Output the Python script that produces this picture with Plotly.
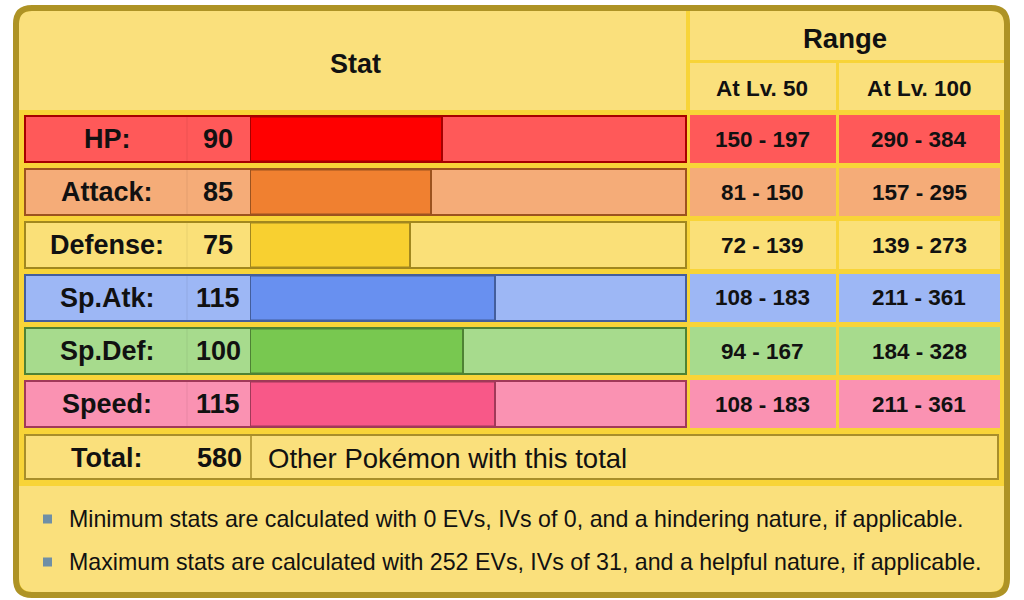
import plotly.graph_objects as go

# ---------------- data ----------------
stats = ["HP", "Attack", "Defense", "Sp.Atk", "Sp.Def", "Speed"]
base_values = [90, 85, 75, 115, 100, 115]
range_lv50 = ["150 - 197", "81 - 150", "72 - 139", "108 - 183", "94 - 167", "108 - 183"]
range_lv100 = ["290 - 384", "157 - 295", "139 - 273", "211 - 361", "184 - 328", "211 - 361"]
header_stat = "Stat"
header_range = "Range"
level_labels = ["At Lv. 50", "At Lv. 100"]
total_label = "Total:"
total_text = "Other Pokémon with this total"
notes = [
    "Minimum stats are calculated with 0 EVs, IVs of 0, and a hindering nature, if applicable.",
    "Maximum stats are calculated with 252 EVs, IVs of 31, and a helpful nature, if applicable.",
]

# ---------------- styles ----------------
light_colors = ["#FF5959", "#F5AC78", "#FAE078", "#9DB7F5", "#A7DB8D", "#FA92B2"]
bar_colors = ["#FF0000", "#F08030", "#F8D030", "#6890F0", "#78C850", "#F85888"]
border_colors = ["#A60000", "#9C531F", "#A1871F", "#445E9C", "#4E8234", "#A13959"]
BG = "#F8D438"
CELL = "#FAE07C"
OUTER = "#AE9325"
FONT = "Liberation Sans, Arial, Helvetica, sans-serif"
TXT = "#111111"

W, H = 1024, 600


def X(p):
    return p / W


def Y(p):
    return 1 - p / H


shapes = []
annotations = []


def rect(x0, y0, x1, y1, fill, line=None, lw=0):
    shapes.append(dict(type="rect", xref="paper", yref="paper",
                       x0=X(x0), x1=X(x1), y0=Y(y1), y1=Y(y0),
                       fillcolor=fill,
                       line=dict(color=line if line else fill, width=lw),
                       layer="below"))


def rpath(x0, y0, x1, y1, radii, fill, line=None, lw=0):
    tl, tr, br, bl = radii

    def p(x, y):
        return f"{X(x):.6f},{Y(y):.6f}"
    d = (f"M{p(x0 + tl, y0)} L{p(x1 - tr, y0)} Q{p(x1, y0)} {p(x1, y0 + tr)} "
         f"L{p(x1, y1 - br)} Q{p(x1, y1)} {p(x1 - br, y1)} "
         f"L{p(x0 + bl, y1)} Q{p(x0, y1)} {p(x0, y1 - bl)} "
         f"L{p(x0, y0 + tl)} Q{p(x0, y0)} {p(x0 + tl, y0)} Z")
    shapes.append(dict(type="path", xref="paper", yref="paper", path=d,
                       fillcolor=fill if fill else "rgba(0,0,0,0)",
                       line=dict(color=line if line else "rgba(0,0,0,0)", width=lw),
                       layer="below"))


def text(x, y, s, size, bold=True, anchor="center", color=TXT):
    annotations.append(dict(xref="paper", yref="paper", x=X(x), y=Y(y), text=s,
                            showarrow=False, xanchor=anchor, yanchor="middle",
                            font=dict(family=FONT, size=size, color=color,
                                      weight=700 if bold else 400)))


# outer background
rpath(16, 8, 1007, 595, (16, 16, 16, 16), BG)

# header cells
rpath(19, 11, 686, 110, (12, 0, 0, 0), CELL)
rpath(690, 11, 1004, 60, (0, 12, 0, 0), CELL)
rect(690, 63, 836, 110, CELL)
rect(839, 63, 1004, 110, CELL)
text(355, 64, header_stat, 27)
text(845, 39, header_range, 27.5)
text(762, 88, level_labels[0], 22.5)
text(919, 88, level_labels[1], 22.5)

# stat rows
ROW0, STEP, RH = 116, 53, 46
for i, name in enumerate(stats):
    top = ROW0 + STEP * i
    bot = top + RH
    mid = (top + bot) / 2
    rect(25, top, 686, bot, light_colors[i], border_colors[i], 2)
    shapes.append(dict(type="line", xref="paper", yref="paper",
                       x0=X(187), x1=X(187), y0=Y(top + 1), y1=Y(bot - 1),
                       line=dict(color="rgba(0,0,0,0.07)", width=1), layer="below"))
    rect(690, top - 1, 836, bot + 1, light_colors[i])
    rect(839, top - 1, 1000, bot + 1, light_colors[i])
    text(107, mid, name + ":", 27)
    text(218, mid, str(base_values[i]), 27)
    text(762, mid, range_lv50[i], 22.5)
    text(919, mid, range_lv100[i], 22.5)

# total row
rect(25, 435, 998, 479, CELL, "#A88E2A", 2)
shapes.append(dict(type="line", xref="paper", yref="paper",
                   x0=X(251), x1=X(251), y0=Y(436), y1=Y(478),
                   line=dict(color="#A88E2A", width=1.5), layer="below"))
text(106, 458, total_label, 27)
text(219, 458, str(sum(base_values)), 27)
text(266, 458, total_text, 27.5, bold=False, anchor="left")

# notes area
rpath(19, 486, 1004, 592, (0, 0, 14, 14), CELL)
for k, note in enumerate(notes):
    cy = 519 + 43 * k
    rect(43, cy - 4.5, 52, cy + 4.5, "#6F8FA6")
    text(67, cy, note, 23.2, bold=False, anchor="left")

# outer border on top of cells
rpath(16, 8, 1007, 595, (16, 16, 16, 16), None, OUTER, 6)

# ---------------- figure ----------------
fig = go.Figure()
fig.add_trace(go.Bar(
    x=base_values, y=stats, orientation="h",
    marker=dict(color=bar_colors, line=dict(color=border_colors, width=2)),
    width=0.85, hoverinfo="skip", showlegend=False,
))

fig.update_layout(
    width=W, height=H, autosize=False,
    margin=dict(l=0, r=0, t=0, b=0, pad=0),
    paper_bgcolor="white", plot_bgcolor="rgba(0,0,0,0)",
    shapes=shapes, annotations=annotations,
    xaxis=dict(domain=[X(250), X(686)], range=[0, 436 / 2.13], visible=False,
               fixedrange=True),
    yaxis=dict(domain=[Y(430.5), Y(112.5)], type="category",
               categoryorder="array", categoryarray=stats,
               range=[5.5, -0.5], visible=False, fixedrange=True),
    bargap=0, hovermode=False,
)

fig.write_html("out.html", config={"displayModeBar": False},
               post_script="document.body.style.margin='0px';document.body.style.overflow='hidden';")
